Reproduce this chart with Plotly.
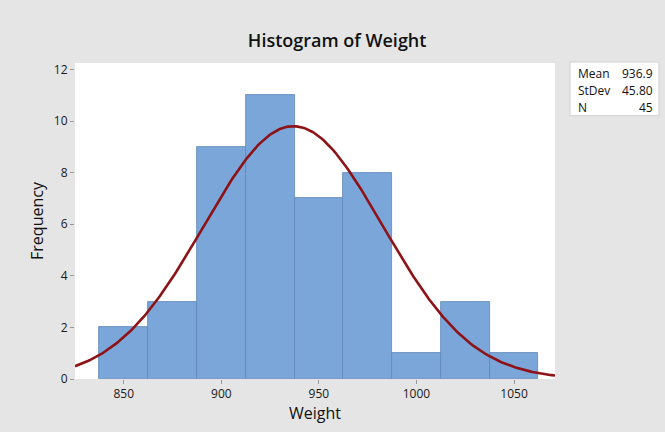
import numpy as np
import plotly.graph_objects as go

bin_centers = [850, 875, 900, 925, 950, 975, 1000, 1025, 1050]
counts = [2, 3, 9, 11, 7, 8, 1, 3, 1]
bin_width = 25
mean = 936.9
stdev = 45.80
n = 45
x_ticks = [850, 900, 950, 1000, 1050]
y_ticks = [0, 2, 4, 6, 8, 10, 12]

xs = np.linspace(825, 1071, 300)
ys = n * bin_width * np.exp(-0.5 * ((xs - mean) / stdev) ** 2) / (stdev * np.sqrt(2 * np.pi))

font = "Open Sans, Noto Sans, sans-serif"
fig = go.Figure()
fig.add_trace(go.Bar(x=bin_centers, y=counts, width=bin_width,
                     marker=dict(color="#7BA6DA", line=dict(color="#5F86B8", width=0.8)),
                     hoverinfo="x+y"))
fig.add_trace(go.Scatter(x=xs, y=ys, mode="lines",
                         line=dict(color="#8E1316", width=2.6), hoverinfo="skip"))

fig.update_layout(
    width=665, height=432,
    margin=dict(l=75, r=110, t=63, b=51),
    paper_bgcolor="#E5E5E5", plot_bgcolor="#FFFFFF",
    showlegend=False, bargap=0,
    font=dict(family=font, color="#222222"),
    title=dict(text="Histogram of Weight", x=0.507, xanchor="center", y=0.905, yanchor="middle",
               font=dict(size=18, color="#111111", family=font, weight=600)),
)
fig.update_xaxes(range=[825, 1071], tickvals=x_ticks, ticks="outside", ticklen=4,
                 tickcolor="#999999", showgrid=False, zeroline=False, showline=False,
                 tickfont=dict(size=12, color="#1A1A1A", weight=500),
                 title=dict(text="Weight", font=dict(size=16, color="#111111", weight=500), standoff=6))
fig.update_yaxes(range=[0, 12.25], tickvals=y_ticks, ticks="outside", ticklen=4,
                 tickcolor="#999999", showgrid=False, zeroline=False, showline=False,
                 tickfont=dict(size=12, color="#1A1A1A", weight=500),
                 title=dict(text="Frequency", font=dict(size=16, color="#111111", weight=500), standoff=6))

# stats box
fig.add_shape(type="rect", xref="paper", yref="paper",
              x0=(570 - 75) / 480, x1=(659 - 75) / 480,
              y0=(381 - 116) / 318, y1=(381 - 62) / 318,
              fillcolor="white", line=dict(color="#D0D0D0", width=1), layer="above")
labels = ["Mean", "StDev", "N"]
values = [f"{mean:.1f}", f"{stdev:.2f}", f"{n}"]
for i, (lab, val) in enumerate(zip(labels, values)):
    yy = (381 - (74 + i * 17)) / 318
    fig.add_annotation(xref="paper", yref="paper", x=(576 - 75) / 480, y=yy, text=lab,
                       showarrow=False, xanchor="left", yanchor="middle",
                       font=dict(size=12, color="#111111", family=font, weight=500))
    fig.add_annotation(xref="paper", yref="paper", x=(655 - 75) / 480, y=yy, text=val,
                       showarrow=False, xanchor="right", yanchor="middle",
                       font=dict(size=12, color="#111111", family=font, weight=500))

fig.write_html("out.html", config={"displayModeBar": False},
               post_script="document.body.style.margin='0';document.body.style.overflow='hidden';")
